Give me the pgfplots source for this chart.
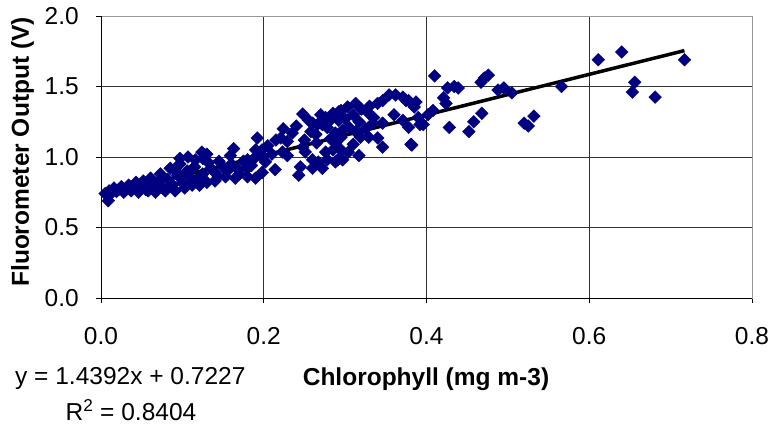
\documentclass[border=0pt]{standalone}
\usepackage{fontspec}
\setmainfont{Liberation Sans}
\usepackage{pgfplots}
\pgfplotsset{compat=1.18}
\definecolor{navy}{RGB}{0,0,128}
\begin{document}
\fontsize{24.5bp}{29bp}\selectfont
\begin{tikzpicture}
\path[use as bounding box] (-101bp,-129bp) rectangle (668bp,298bp);
\begin{axis}[
  at={(0,0)}, anchor=south west, scale only axis,
  width=651bp, height=282bp,
  xmin=0, xmax=0.8, ymin=0, ymax=2,
  xtick={0,0.2,0.4,0.6,0.8}, ytick={0,0.5,1,1.5,2},
  xticklabels={0.0,0.2,0.4,0.6,0.8},
  yticklabels={0.0,0.5,1.0,1.5,2.0},
  tick label style={font=\fontsize{24.5bp}{29bp}\selectfont},
  xticklabel style={anchor=north, inner sep=0pt, yshift=-24bp},
  yticklabel style={anchor=east, inner sep=0pt, xshift=-17bp},
  tick align=outside, major tick length=5bp,
  tick style={black, line width=0.8bp},
  xtick pos=bottom, ytick pos=left,
  grid=major, major grid style={black!80, line width=0.8bp},
  axis line style={draw=gray!80, line width=0.8bp},
  clip=false,
]
\draw[black, line width=0.9bp] (axis cs:0,2) -- (axis cs:0,0) -- (axis cs:0.8,0);
\addplot[only marks, mark=square*, mark size=4.5bp,
  mark options={rotate=45, fill=navy, draw=navy}] table {
x y
0.005 0.74
0.009 0.69
0.010 0.76
0.013 0.745
0.016 0.78
0.019 0.755
0.022 0.77
0.025 0.79
0.028 0.75
0.031 0.77
0.034 0.80
0.037 0.76
0.040 0.78
0.043 0.82
0.046 0.75
0.049 0.79
0.052 0.83
0.055 0.77
0.058 0.76
0.061 0.85
0.064 0.80
0.067 0.75
0.070 0.82
0.073 0.88
0.076 0.78
0.079 0.76
0.082 0.84
0.085 0.92
0.088 0.80
0.091 0.76
0.094 0.87
0.097 0.95
0.100 0.82
0.103 0.78
0.106 0.90
0.109 0.86
0.112 0.80
0.115 0.93
0.118 0.84
0.121 0.80
0.125 0.88
0.130 0.82
0.135 0.92
0.140 0.83
0.145 0.97
0.163 1.06
0.159 1.01
0.124 1.035
0.116 0.98
0.107 1.00
0.097 0.99
0.095 0.94
0.094 0.89
0.113 0.92
0.120 0.84
0.113 0.82
0.132 0.96
0.140 0.89
0.144 0.86
0.153 0.86
0.165 0.85
0.169 0.91
0.180 0.92
0.180 0.98
0.190 1.00
0.198 1.05
0.180 0.86
0.190 0.85
0.192 1.135
0.150 0.93
0.160 0.95
0.170 0.88
0.175 0.97
0.155 0.90
0.185 0.94
0.125 0.99
0.130 1.02
0.248 1.305
0.255 1.26
0.266 1.23
0.224 1.20
0.276 1.28
0.285 1.31
0.292 1.32
0.272 1.23
0.278 1.21
0.258 1.18
0.264 1.16
0.221 1.135
0.229 1.11
0.248 1.07
0.251 1.035
0.223 1.035
0.229 1.01
0.190 1.05
0.198 1.00
0.202 0.965
0.198 0.89
0.214 0.91
0.245 0.93
0.243 0.87
0.260 0.98
0.267 0.965
0.278 0.98
0.288 0.965
0.297 0.98
0.260 0.92
0.272 0.92
0.276 1.035
0.285 1.05
0.288 1.17
0.295 1.14
0.235 1.17
0.240 1.22
0.260 1.24
0.270 1.30
0.280 1.25
0.250 1.12
0.265 1.10
0.282 1.13
0.300 1.27
0.310 1.30
0.320 1.34
0.330 1.36
0.325 1.20
0.335 1.28
0.305 1.21
0.310 1.09
0.205 1.08
0.210 1.02
0.215 1.12
0.354 1.44
0.362 1.44
0.371 1.425
0.378 1.40
0.387 1.39
0.346 1.40
0.340 1.38
0.313 1.38
0.303 1.355
0.329 1.31
0.317 1.25
0.360 1.30
0.371 1.26
0.390 1.28
0.396 1.23
0.334 1.24
0.346 1.24
0.340 1.135
0.329 1.14
0.319 1.14
0.313 1.18
0.346 1.07
0.382 1.085
0.295 1.33
0.292 1.26
0.297 1.19
0.288 1.10
0.295 1.05
0.304 1.035
0.317 1.01
0.291 0.98
0.375 1.40
0.385 1.355
0.378 1.21
0.381 1.09
0.392 1.23
0.402 1.30
0.408 1.33
0.421 1.42
0.424 1.38
0.410 1.575
0.426 1.49
0.434 1.50
0.439 1.49
0.428 1.21
0.452 1.18
0.458 1.25
0.468 1.31
0.467 1.53
0.471 1.56
0.476 1.58
0.488 1.475
0.495 1.49
0.505 1.455
0.520 1.24
0.525 1.22
0.532 1.29
0.566 1.50
0.611 1.69
0.640 1.745
0.717 1.69
0.656 1.53
0.653 1.46
0.681 1.425
};
\addplot[black, line width=3.5bp] coordinates {(0.008,0.7342) (0.717,1.7546)};
\end{axis}
\node[anchor=west, inner sep=0pt] at (-86bp,-80bp) {y = 1.4392x + 0.7227};
\node[inner sep=0pt] at (30bp,-112bp) {R\textsuperscript{2} = 0.8404};
\node[inner sep=0pt, font=\bfseries] at (325bp,-81bp) {Chlorophyll (mg m-3)};
\node[inner sep=0pt, rotate=90, font=\bfseries] at (-78.5bp,146bp) {Fluorometer Output (V)};
\end{tikzpicture}
\end{document}
